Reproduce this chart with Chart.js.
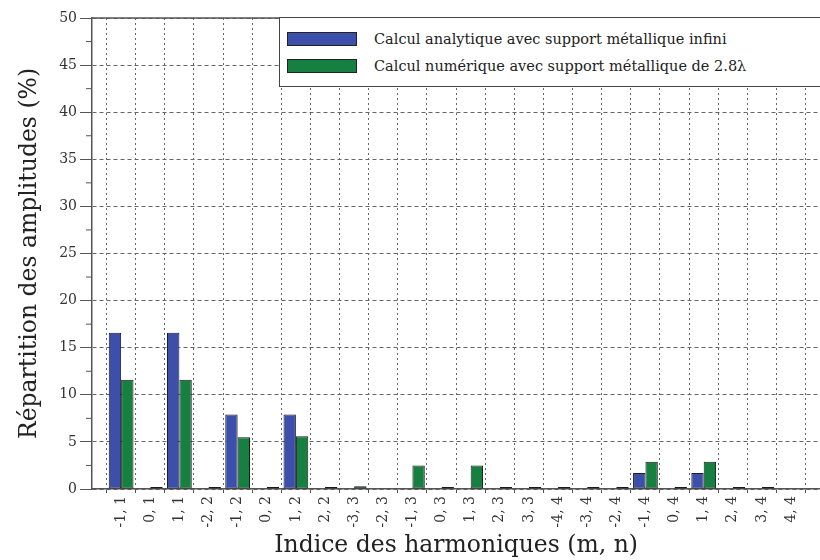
<!DOCTYPE html>
<html>
<head>
<meta charset="utf-8">
<script src="https://cdn.jsdelivr.net/npm/chart.js@4"></script>
<style>
  html, body { margin: 0; padding: 0; background: #fff; overflow: hidden; }
  #wrap { position: relative; width: 820px; height: 560px; overflow: hidden; }
  #harmChart { position: absolute; left: 0; top: 0; }
  #legende {
    position: absolute; left: 279px; top: 17px; width: 560px; height: 70px;
    border: 1.5px solid #444; background: #fff; box-sizing: border-box;
    font-family: "DejaVu Serif", serif; font-size: 14.5px; color: #222;
  }
  #legende .row { position: absolute; left: 7px; height: 16px; display: flex; align-items: center; }
  #legende .swatch { width: 70px; height: 14px; border: 1px solid #222; box-sizing: border-box; margin-right: 17px; }
</style>
</head>
<body>
<div id="wrap">
  <canvas id="harmChart" width="840" height="560"></canvas>
  <div id="legende"></div>
</div>
<script>
// indices (m,n) des harmoniques
const harmoniques = ['-1, 1', '0, 1', '1, 1', '-2, 2', '-1, 2', '0, 2', '1, 2', '2, 2',
    '-3, 3', '-2, 3', '-1, 3', '0, 3', '1, 3', '2, 3', '3, 3',
    '-4, 4', '-3, 4', '-2, 4', '-1, 4', '0, 4', '1, 4', '2, 4', '3, 4', '4, 4'];

// répartition des amplitudes en %
const analytique = [16.6, 0, 16.6, 0, 7.9, 0, 7.9, 0,
    0, 0, 0, 0, 0, 0, 0,
    0, 0, 0, 1.7, 0, 1.7, 0, 0, 0];
const numerique = [11.6, 0.2, 11.6, 0.2, 5.5, 0.2, 5.6, 0.2,
    0.3, 0, 2.5, 0.2, 2.5, 0.2, 0.2,
    0.2, 0.2, 0.2, 2.9, 0.2, 2.9, 0.2, 0.2, 0];

const nomsSeries = ['Calcul analytique avec support métallique infini',
    'Calcul numérique avec support métallique de 2.8λ'];
const couleurs = ['#3b4fab', '#15803f'];
const yTicks = [0, 5, 10, 15, 20, 25, 30, 35, 40, 45, 50];

const serif = '"DejaVu Serif", serif';

// une case vide de chaque côté pour reproduire les marges de l'axe
const labels = [''].concat(harmoniques, ['']);
const pad = arr => [null].concat(arr, [null]);

const cadre = {
    id: 'cadre',
    afterDraw(chart) {
        const { ctx, chartArea: a, scales } = chart;
        ctx.save();
        ctx.strokeStyle = '#555';
        ctx.lineWidth = 1.5;
        ctx.setLineDash([]);
        ctx.beginPath();
        ctx.moveTo(a.left, a.top);
        ctx.lineTo(a.right, a.top);
        ctx.stroke();
        // petites graduations
        ctx.lineWidth = 1;
        for (let i = 0; i < yTicks.length - 1; i++) {
            const y = scales.y.getPixelForValue((yTicks[i] + yTicks[i + 1]) / 2);
            ctx.beginPath();
            ctx.moveTo(a.left - 6, y);
            ctx.lineTo(a.left, y);
            ctx.stroke();
        }
        ctx.restore();
    }
};

const ctx = document.getElementById('harmChart').getContext('2d');
new Chart(ctx, {
    type: 'bar',
    data: {
        labels: labels,
        datasets: [{
            label: nomsSeries[0],
            data: pad(analytique),
            backgroundColor: couleurs[0],
            borderColor: '#1c1c2a',
            borderSkipped: false,
            borderWidth: c => (c.raw ? 1 : 0)
        }, {
            label: nomsSeries[1],
            data: pad(numerique),
            backgroundColor: couleurs[1],
            borderColor: '#1a1a1a',
            borderSkipped: false,
            borderWidth: c => (c.raw ? 1 : 0)
        }]
    },
    options: {
        responsive: false,
        animation: false,
        layout: { padding: { top: 18, right: 9, left: 0, bottom: 0 } },
        datasets: { bar: { categoryPercentage: 0.85, barPercentage: 1.0 } },
        plugins: {
            legend: { display: false },
            tooltip: { enabled: false }
        },
        scales: {
            x: {
                offset: false,
                afterFit: s => { s.height = 71; },
                grid: {
                    color: '#666',
                    lineWidth: 1,
                    tickLength: 4,
                    tickColor: '#555',
                    tickBorderDash: []
                },
                border: { display: true, color: '#555', width: 1.5, dash: [2, 3] },
                ticks: {
                    autoSkip: false,
                    minRotation: 90,
                    maxRotation: 90,
                    padding: 3,
                    color: '#333',
                    font: { family: serif, size: 14 }
                },
                title: {
                    display: true,
                    text: 'Indice des harmoniques (m, n)',
                    color: '#222',
                    padding: { top: 0, bottom: 0 },
                    font: { family: serif, size: 23.5 }
                }
            },
            y: {
                min: 0,
                max: 50,
                afterFit: s => { s.width = 92; },
                afterBuildTicks: s => { s.ticks = yTicks.map(v => ({ value: v })); },
                grid: {
                    color: '#666',
                    lineWidth: 1,
                    tickLength: 12,
                    tickColor: '#555',
                    tickBorderDash: []
                },
                border: { display: true, color: '#555', width: 1.5, dash: [4, 3] },
                ticks: {
                    padding: 3,
                    color: '#333',
                    font: { family: serif, size: 14 }
                },
                title: {
                    display: true,
                    text: 'Répartition des amplitudes (%)',
                    color: '#222',
                    padding: { top: 16, bottom: 0 },
                    font: { family: serif, size: 23.5 }
                }
            }
        }
    },
    plugins: [cadre]
});

// légende dans un cadre, en haut à droite
const leg = document.getElementById('legende');
nomsSeries.forEach((nom, i) => {
    const row = document.createElement('div');
    row.className = 'row';
    row.style.top = (i === 0 ? 13 : 40) + 'px';
    const sw = document.createElement('span');
    sw.className = 'swatch';
    sw.style.background = couleurs[i];
    const txt = document.createElement('span');
    txt.textContent = nom;
    row.appendChild(sw);
    row.appendChild(txt);
    leg.appendChild(row);
});
</script>
</body>
</html>
